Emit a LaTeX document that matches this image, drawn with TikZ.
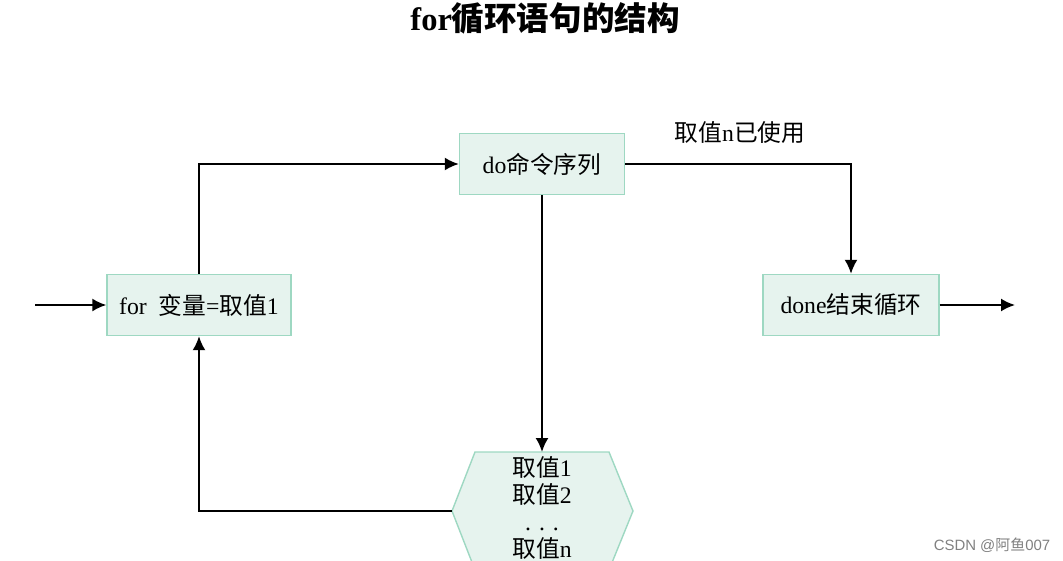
\documentclass[tikz,border=0pt]{standalone}
\usepackage{fontspec}
\setmainfont{Liberation Serif}
\newfontfamily\cjk{Noto Sans CJK SC}
\newfontfamily\wmfont{Liberation Sans}
\usetikzlibrary{arrows.meta}
\definecolor{boxfill}{RGB}{230,243,238}
\definecolor{boxline}{RGB}{158,216,194}

\begin{document}
\begin{tikzpicture}[x=0.02cm,y=-0.02cm,>=Latex,
    box/.style={draw=boxline,fill=boxfill,line width=0.8pt,minimum height=1.22cm,inner sep=0pt,font=\fontsize{13.5}{15}\selectfont},
    flow/.style={line width=1.1pt,-{Latex[length=2.8mm,width=2.6mm]}}]
    \useasboundingbox (0,0) rectangle (1063,561);
    \clip (0,0) rectangle (1063,561);
    % title
    \node[font=\fontsize{18.5}{20}\selectfont\bfseries] (title) at (545,18) {for{\cjk 循环语句的结构}};
    % boxes
    \node[box,minimum width=3.68cm] (init) at (199,305) {for\ \ {\cjk 变量}={\cjk 取值}1};
    \node[box,minimum width=3.3cm] (body) at (542,164) {do{\cjk 命令序列}};
    \node[box,minimum width=3.52cm] (done) at (851,305) {done{\cjk 结束循环}};
    % hexagon with the values
    \coordinate (hexT) at (542,452);
    \coordinate (hexL) at (452,511);
    \filldraw[fill=boxfill,draw=boxline,line width=0.8pt] (475,452) -- (609,452) -- (633,511) -- (609,570) -- (475,570) -- (452,511) -- cycle;
    \node[align=center,font=\fontsize{13.5}{15.4}\selectfont] (vals) at (542,508) {{\cjk 取值}1\\{\cjk 取值}2\\. . .\\{\cjk 取值}n};
    % loose ends
    \coordinate (in) at (35,305);
    \coordinate (out) at (1015,305);
    % connectors
    \draw[flow] (in) -- (init.west);
    \draw[flow] (init.north) |- (body.west);
    \draw[flow] (body.east) -| (done.north);
    \node[font=\fontsize{13.5}{15}\selectfont] (used) at (740,133) {{\cjk 取值}n{\cjk 已使用}};
    \draw[flow] (body.south) -- (hexT);
    \draw[flow] (hexL) -| (init.south);
    \draw[flow] (done.east) -- (out);
    % watermark
    \node[font=\wmfont\fontsize{8.5}{10}\selectfont,text=gray] (mark) at (992,545) {CSDN @{\cjk 阿鱼}007};
\end{tikzpicture}
\end{document}
